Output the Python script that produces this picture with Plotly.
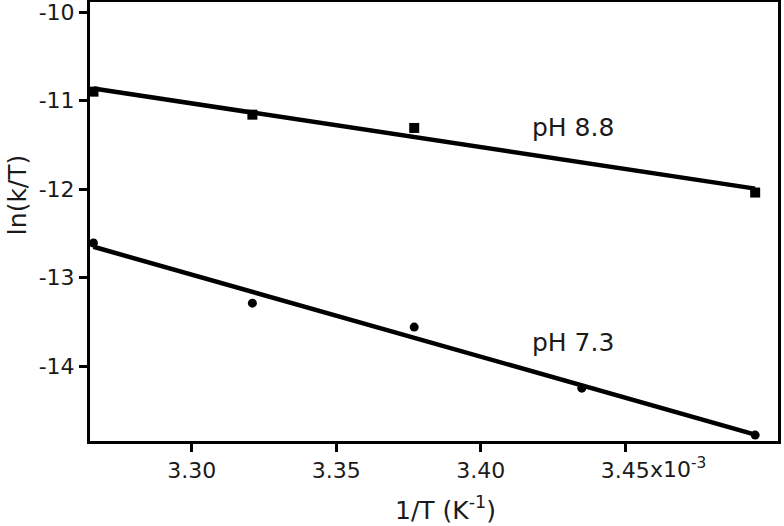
import numpy as np
import plotly.graph_objects as go

# data (x in units of 1e-3 K^-1)
x_ph88 = [3.266, 3.321, 3.377, 3.495]
y_ph88 = [-10.90, -11.16, -11.31, -12.04]
x_ph73 = [3.266, 3.321, 3.377, 3.435, 3.495]
y_ph73 = [-12.61, -13.29, -13.56, -14.25, -14.78]

x_tickvals = [3.30, 3.35, 3.40, 3.45]
x_ticktext = ["3.30", "3.35", "3.40", "3.45"]
y_tickvals = [-10, -11, -12, -13, -14]
y_ticktext = ["-10", "-11", "-12", "-13", "-14"]

FONT = "DejaVu Sans"
TXT = "#1a1a1a"

def fit_line(xs, ys):
    m, b = np.polyfit(xs, ys, 1)
    xe = np.array([min(xs), max(xs)])
    return xe, m * xe + b

fig = go.Figure()
for xs, ys, sym, sz in [(x_ph88, y_ph88, "square", 10), (x_ph73, y_ph73, "circle", 9)]:
    xe, ye = fit_line(xs, ys)
    fig.add_trace(go.Scatter(x=xe, y=ye, mode="lines",
                             line=dict(color="black", width=4.5),
                             showlegend=False, hoverinfo="skip"))
    fig.add_trace(go.Scatter(x=xs, y=ys, mode="markers",
                             marker=dict(symbol=sym, size=sz, color="black"),
                             showlegend=False, cliponaxis=False))

axis_common = dict(showgrid=False, zeroline=False, showline=True, linecolor="black",
                   linewidth=3, mirror=True, ticks="outside", ticklen=8, tickwidth=3,
                   tickcolor="black", automargin=False, ticklabeloverflow="allow",
                   tickfont=dict(family=FONT, size=22, color=TXT))

fig.update_xaxes(range=[3.2648, 3.5029], tickvals=x_tickvals, ticktext=x_ticktext,
                 **axis_common)
fig.update_yaxes(range=[-14.847, -9.887], tickvals=y_tickvals, ticktext=y_ticktext,
                 **axis_common)

anns = [
    dict(x=3.417, y=-11.31, text="pH 8.8", xanchor="left", yanchor="middle",
         showarrow=False, font=dict(family=FONT, size=25, color=TXT)),
    dict(x=3.417, y=-13.73, text="pH 7.3", xanchor="left", yanchor="middle",
         showarrow=False, font=dict(family=FONT, size=25, color=TXT)),
    dict(x=3.45, y=0, xref="x", yref="paper", text="x10<sup>-3</sup>",
         xanchor="left", yanchor="top", xshift=23, yshift=-11, showarrow=False,
         font=dict(family=FONT, size=22, color=TXT)),
    dict(x=0.517, y=0, xref="paper", yref="paper", text="1/T (K<sup>-1</sup>)",
         xanchor="center", yanchor="bottom", yshift=-86, showarrow=False,
         font=dict(family=FONT, size=25, color=TXT)),
    dict(x=0, y=0.56, xref="paper", yref="paper", text="ln(k/T)", textangle=-90,
         xanchor="center", yanchor="middle", xshift=-73, showarrow=False,
         font=dict(family=FONT, size=25, color=TXT)),
]
fig.update_layout(width=784, height=526, margin=dict(l=90, r=6, t=2, b=85),
                  paper_bgcolor="white", plot_bgcolor="white", annotations=anns)

fig.write_html("out.html", config={"displayModeBar": False},
               post_script="document.body.style.margin='0px';document.body.style.overflow='hidden';")
